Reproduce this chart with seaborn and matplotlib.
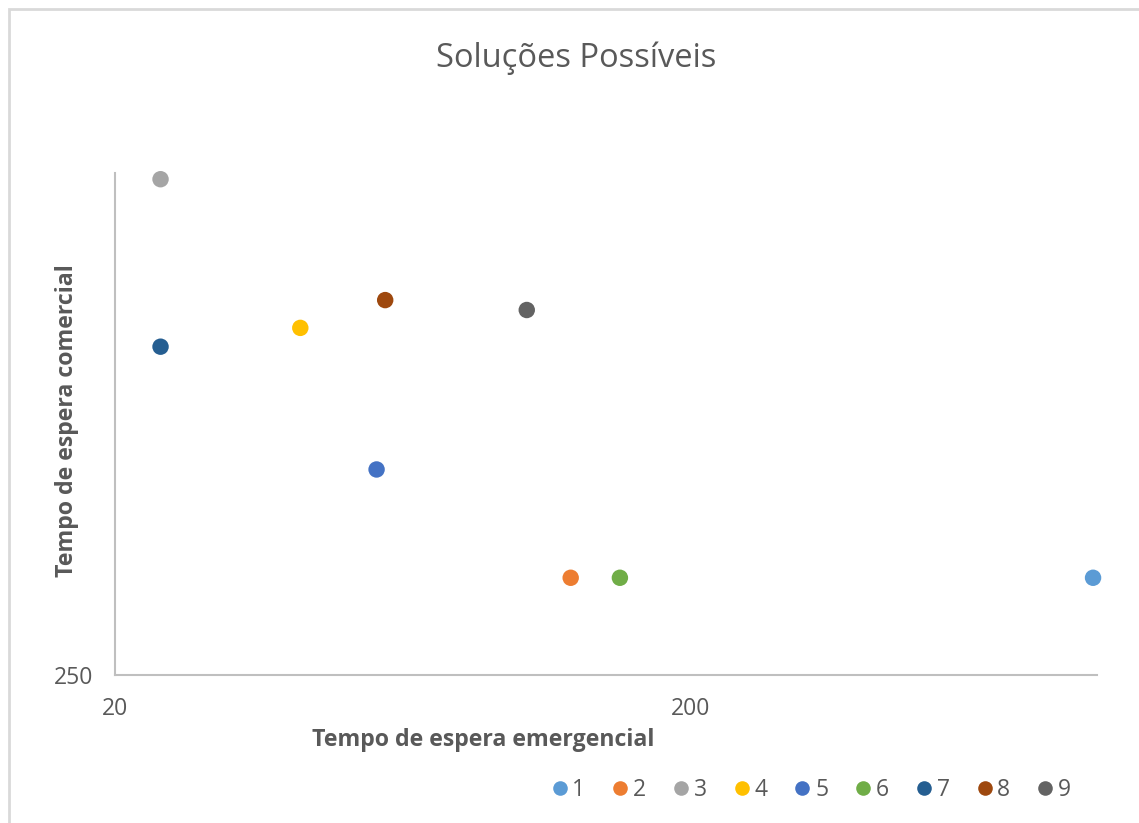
import matplotlib
matplotlib.use("Agg")
import matplotlib.pyplot as plt
import seaborn as sns
import pandas as pd
from matplotlib.ticker import FixedLocator, FixedFormatter, NullLocator
from matplotlib.lines import Line2D
from matplotlib.patches import Rectangle

# Soluções candidatas: tempos de espera (emergencial x comercial)
solucoes = ["1", "2", "3", "4", "5", "6", "7", "8", "9"]
tempo_emergencial = [1004, 124, 24, 42, 57, 151, 24, 59, 104]
tempo_comercial = [327, 327, 983, 652, 441, 327, 619, 704, 685]
cores = ["#5B9BD5", "#ED7D31", "#A5A5A5", "#FFC000", "#4472C4",
         "#70AD47", "#255E91", "#9E480E", "#636363"]

x_ticks = [20, 200]
y_ticks = [250]

W, H = 1139, 823
TXT = "#595959"

sns.set_theme(style="white")
plt.rcParams["font.family"] = ["Open Sans", "DejaVu Sans"]

fig = plt.figure(figsize=(W / 100, H / 100), dpi=100)
fig.patch.set_facecolor("white")

# moldura da área do gráfico
fig.patches.append(Rectangle((9 / W, -0.1), 1.2, 1 - 9 / H + 0.1,
                             transform=fig.transFigure, fill=False,
                             edgecolor="#d9d9d9", linewidth=2))

left, right, top, bottom = 115, 1097, 173, 675
ax = fig.add_axes([left / W, 1 - bottom / H, (right - left) / W, (bottom - top) / H])

df = pd.DataFrame({"Solução": solucoes,
                   "Tempo de espera emergencial": tempo_emergencial,
                   "Tempo de espera comercial": tempo_comercial})

sns.scatterplot(data=df, x="Tempo de espera emergencial", y="Tempo de espera comercial",
                hue="Solução", palette=cores, s=140, edgecolor="none",
                legend=False, ax=ax, clip_on=False, zorder=3)

ax.set_xscale("log")
ax.set_yscale("log")
ax.set_xlim(20, 1020)
ax.set_ylim(250, 1000)

ax.xaxis.set_major_locator(FixedLocator(x_ticks))
ax.xaxis.set_major_formatter(FixedFormatter([str(v) for v in x_ticks]))
ax.xaxis.set_minor_locator(NullLocator())
ax.yaxis.set_major_locator(FixedLocator(y_ticks))
ax.yaxis.set_major_formatter(FixedFormatter([str(v) for v in y_ticks]))
ax.yaxis.set_minor_locator(NullLocator())

ax.tick_params(axis="x", length=0, pad=16, labelsize=16.5, labelcolor=TXT)
ax.tick_params(axis="y", length=0, pad=16, labelsize=16.5, labelcolor=TXT)

for side in ["top", "right"]:
    ax.spines[side].set_visible(False)
for side in ["left", "bottom"]:
    ax.spines[side].set_color("#bfbfbf")
    ax.spines[side].set_linewidth(1.5)
ax.grid(False)

ax.set_xlabel("Tempo de espera emergencial", fontsize=16.7, fontweight="bold", color=TXT)
ax.set_ylabel("Tempo de espera comercial", fontsize=16.7, fontweight="bold", color=TXT)
ax.xaxis.set_label_coords((483 - left) / (right - left), (bottom - 740) / (bottom - top))
ax.yaxis.set_label_coords((67 - left) / (right - left), (bottom - 421) / (bottom - top))
ax.xaxis.label.set_verticalalignment("center")
ax.yaxis.label.set_verticalalignment("center")

fig.text(576 / W, 1 - 58 / H, "Soluções Possíveis", ha="center", va="center",
         fontsize=23.5, color=TXT)

handles = [Line2D([], [], marker="o", linestyle="none", markersize=10.5,
                  markerfacecolor=c, markeredgecolor="none") for c in cores]
fig.legend(handles, solucoes, loc="center", ncol=len(solucoes), frameon=False,
           bbox_to_anchor=(809 / W, 1 - 790 / H), fontsize=16.5,
           handletextpad=0.0, columnspacing=0.98, handlelength=1.1,
           labelcolor=TXT)

fig.savefig("out.png", dpi=100)
